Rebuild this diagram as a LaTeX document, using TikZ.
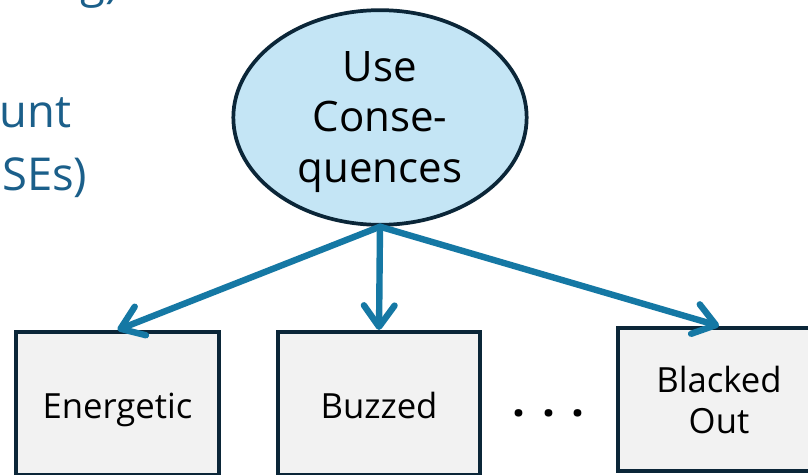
\documentclass[tikz,border=0pt]{standalone}
\usepackage{fontspec}
\setmainfont{Open Sans}
\usetikzlibrary{shapes.geometric,arrows.meta}
\definecolor{inkline}{HTML}{0B2638}
\definecolor{bubble}{HTML}{C4E5F5}
\definecolor{boxfill}{HTML}{F2F2F2}
\definecolor{arrowblue}{HTML}{1578A4}
\definecolor{headblue}{HTML}{1B5F8A}
\tikzset{
  conseq/.style={ellipse, draw=inkline, line width=2.8pt, fill=bubble,
    minimum width=220pt, minimum height=161pt, inner sep=0pt},
  conseqtext/.style={inner sep=0pt, align=center,
    font=\fontsize{31.5pt}{37.9pt}\selectfont},
  statebox/.style={rectangle, draw=inkline, line width=2.8pt, fill=boxfill,
    minimum width=152pt, minimum height=107.5pt, inner sep=0pt, align=center,
    font=\fontsize{26pt}{30.75pt}\selectfont},
  oneline/.style={text height=21.75pt, text depth=0pt},
  flow/.style={draw=arrowblue, line width=4.8pt, line cap=round,
    -{Straight Barb[length=16pt, width=23pt, line cap=round, line join=round]}},
  sidetext/.style={anchor=base west, inner sep=0pt, text=headblue,
    font=\fontsize{34pt}{40pt}\selectfont}
}
\begin{document}
\begin{tikzpicture}[x=0.75pt, y=-0.75pt]
  \useasboundingbox (0,0) rectangle (808,475);
  \clip (0,0) rectangle (808,475);
  \fill[white] (0,0) rectangle (808,475);

  % heading text running in from the left
  \node[sidetext] (hg) at (80,-3) {g)};
  \node[sidetext] (hunt) at (-0.5,127) {unt};
  \node[sidetext] (hses) at (2,190) {SEs)};

  % central cause
  \node[conseq] (use) at (380,117.5) {};
  \node[conseqtext] (usetext) at (380,122) {Use\\Conse-\\quences};

  % outcome states
  \node[statebox, oneline] (ener) at (117.5,403.5) {Energetic};
  \node[statebox, oneline] (buzz) at (379,403.5) {Buzzed};
  \node[statebox] (black) at (719,399.5) {Blacked\\Out};

  % ellipsis between the states
  \node[anchor=base, inner sep=0pt, font=\fontsize{34pt}{40pt}\selectfont\bfseries] (dots)
    at (548.5,416) {.\hspace{12.5pt}.\hspace{12.5pt}.};

  % arrows from the cause to each state
  \draw[flow] (use.south) -- (ener.north);
  \draw[flow] (use.south) -- (buzz.north);
  \draw[flow] (use.south) -- (black.north);
\end{tikzpicture}
\end{document}
